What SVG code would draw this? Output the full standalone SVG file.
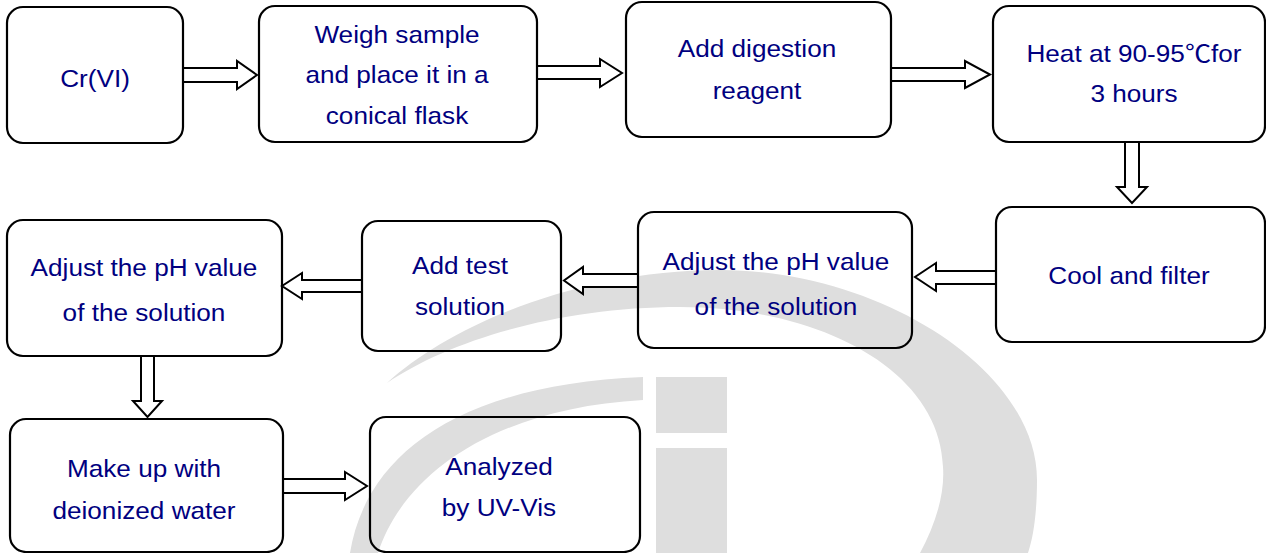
<svg xmlns="http://www.w3.org/2000/svg" width="1266" height="553" viewBox="0 0 1266 553">
<style>
.box{fill:none;stroke:#000;stroke-width:2.2}
.arr{fill:#fff;stroke:#000;stroke-width:2;stroke-linejoin:miter}
.wm{fill:#dedede}
text{font-family:"Liberation Sans","Noto Sans CJK SC",Arial,sans-serif;font-size:24px;fill:#000080;text-anchor:middle}
</style>
<rect width="1266" height="553" fill="#fff"/>
<g id="watermark">
<path class="wm" d="M387,383 C450,325 580,270 720,270 C880,270 1037,370 1037,480 C1037,510 1034,535 1028,553 L920,553 C935,525 945,495 943,467 C940,370 820,307 680,307 C560,307 450,340 387,383 Z"/>
<path class="wm" d="M350,553 C365,460 450,385 643,377 L643,400 C500,408 405,470 378,553 Z"/>
<rect class="wm" x="656" y="377" width="71" height="56"/>
<rect class="wm" x="656" y="448" width="71" height="105"/>
</g>
<g id="connectors">
<polygon class="arr" points="183,68 237,68 237,61 257,75 237,89 237,82 183,82"/>
<polygon class="arr" points="537,66 600,66 600,59 622,73 600,87 600,79 537,79"/>
<polygon class="arr" points="891,68 965,68 965,61 990,74.5 965,88 965,81 891,81"/>
<polygon class="arr" points="1125,142 1139,142 1139,187 1147,187 1132,203 1117,187 1125,187"/>
<polygon class="arr" points="996,271 936,271 936,263 915,277 936,291 936,284 996,284"/>
<polygon class="arr" points="638,274 583,274 583,267 564,280.5 583,294 583,287 638,287"/>
<polygon class="arr" points="362,280 302,280 302,273 282,286 302,299 302,292 362,292"/>
<polygon class="arr" points="141,356 154,356 154,401 162,401 147.5,417 133,401 141,401"/>
<polygon class="arr" points="283,479 345,479 345,472 367,486 345,500 345,493 283,493"/>
</g>
<g id="n1">
<rect class="box" x="7" y="7" width="176" height="136" rx="16"/>
<g transform="translate(95 0) scale(1.09 1)"><text x="0" y="87">Cr(VI)</text></g>
</g>
<g id="n2">
<rect class="box" x="259" y="6" width="278" height="136" rx="16"/>
<g transform="translate(397 0) scale(1.09 1)"><text x="0" y="43">Weigh sample</text><text x="0" y="83">and place it in a</text><text x="0" y="124">conical flask</text></g>
</g>
<g id="n3">
<rect class="box" x="626" y="2" width="265" height="135" rx="16"/>
<g transform="translate(757 0) scale(1.09 1)"><text x="0" y="57">Add digestion</text><text x="0" y="99">reagent</text></g>
</g>
<g id="n4">
<rect class="box" x="993" y="6" width="272" height="136" rx="16"/>
<g transform="translate(1134 0) scale(1.09 1)"><text x="0" y="62">Heat at 90-95℃for</text><text x="0" y="102">3 hours</text></g>
</g>
<g id="n5">
<rect class="box" x="996" y="207" width="269" height="135" rx="16"/>
<g transform="translate(1129 0) scale(1.09 1)"><text x="0" y="284">Cool and filter</text></g>
</g>
<g id="n6">
<rect class="box" x="638" y="212" width="274" height="136" rx="16"/>
<g transform="translate(776 0) scale(1.09 1)"><text x="0" y="270">Adjust the pH value</text><text x="0" y="315">of the solution</text></g>
</g>
<g id="n7">
<rect class="box" x="362" y="221" width="199" height="130" rx="16"/>
<g transform="translate(460 0) scale(1.09 1)"><text x="0" y="274">Add test</text><text x="0" y="315">solution</text></g>
</g>
<g id="n8">
<rect class="box" x="7" y="220" width="275" height="136" rx="16"/>
<g transform="translate(144 0) scale(1.09 1)"><text x="0" y="276">Adjust the pH value</text><text x="0" y="321">of the solution</text></g>
</g>
<g id="n9">
<rect class="box" x="10" y="419" width="273" height="133" rx="16"/>
<g transform="translate(144 0) scale(1.09 1)"><text x="0" y="477">Make up with</text><text x="0" y="519">deionized water</text></g>
</g>
<g id="n10">
<rect class="box" x="370" y="417" width="270" height="135" rx="16"/>
<g transform="translate(499 0) scale(1.09 1)"><text x="0" y="475">Analyzed</text><text x="0" y="516">by UV-Vis</text></g>
</g>
</svg>
